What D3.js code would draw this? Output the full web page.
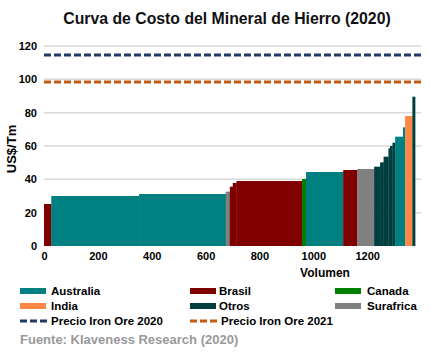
<!DOCTYPE html>
<html>
  <head>
    <meta charset="utf-8" />
    <style>
      body { margin: 0; background: #fff; }
      text { font-family: "Liberation Sans", Arial, sans-serif; font-weight: bold; }
    </style>
  </head>
  <body>

<svg id="graph"></svg>

<script src="https://d3js.org/d3.v7.min.js"></script>
<script>
  const WIDTH = 430;
  const HEIGHT = 363;

  // one entry per block of the cost curve
  const countries = ['Brasil', 'Australia', 'Australia', 'Surafrica', 'Brasil', 'Brasil', 'Brasil',
    'Canada', 'Australia', 'Brasil', 'Surafrica', 'Otros', 'Otros', 'Otros', 'Otros', 'Otros', 'Otros',
    'Australia', 'Australia', 'India', 'Otros'];
  const volumes = [27, 326, 322, 15, 11, 14, 243, 15, 138, 52, 63, 22, 13, 18, 6, 9, 10, 29, 8, 27, 10];
  const costs = [25.2, 30.0, 31.2, 32.6, 35.6, 37.8, 39.0, 40.2, 44.4, 45.6, 46.2, 47.6, 50.2, 53.6,
    58.6, 60.0, 62.0, 65.6, 71.2, 78.0, 89.6];

  const priceNames = ['Precio Iron Ore 2020', 'Precio Iron Ore 2021'];
  const prices = [114.6, 98.4];

  const xTicks = [0, 200, 400, 600, 800, 1000, 1200];
  const yTicks = [0, 20, 40, 60, 80, 100, 120];

  const legendNames = ['Australia', 'Brasil', 'Canada', 'India', 'Otros', 'Surafrica'];
  const colors = {
    Australia: '#008080', Brasil: '#800000', Canada: '#008000',
    India: '#ff8746', Otros: '#003f3f', Surafrica: '#808080'
  };
  const priceColors = ['#203864', '#c55a11'];

  const svg = d3.select('#graph').attr('width', WIDTH).attr('height', HEIGHT);

  const x = d3.scaleLinear().domain([0, 1400]).range([44, 421]);
  const y = d3.scaleLinear().domain([0, 120]).range([246, 46]);

  svg.append('text')
    .attr('x', 227).attr('y', 24)
    .attr('text-anchor', 'middle')
    .attr('font-size', 15.8)
    .attr('fill', '#111')
    .text('Curva de Costo del Mineral de Hierro (2020)');

  // gridlines
  svg.append('g')
    .selectAll('line')
    .data(yTicks.slice(1))
    .join('line')
    .attr('x1', 44).attr('x2', 421)
    .attr('y1', d => y(d)).attr('y2', d => y(d))
    .attr('stroke', '#d9d9d9').attr('stroke-width', 1.5);

  // bars
  let start = 0;
  const bars = countries.map((c, i) => {
    const b = { country: c, x0: start, x1: start + volumes[i], cost: costs[i] };
    start += volumes[i];
    return b;
  });

  svg.append('g')
    .selectAll('rect')
    .data(bars)
    .join('rect')
    .attr('x', d => x(d.x0))
    .attr('width', d => x(d.x1) - x(d.x0) + 0.3)
    .attr('y', d => y(d.cost))
    .attr('height', d => y(0) - y(d.cost))
    .attr('fill', d => colors[d.country]);

  // price lines
  svg.append('g')
    .selectAll('line')
    .data(prices)
    .join('line')
    .attr('x1', 44).attr('x2', 421)
    .attr('y1', d => y(d)).attr('y2', d => y(d))
    .attr('stroke', (d, i) => priceColors[i])
    .attr('stroke-width', 3)
    .attr('stroke-dasharray', '7,3');

  // axes
  const yAxis = svg.append('g')
    .attr('transform', 'translate(40,0)')
    .call(d3.axisLeft(y).tickValues(yTicks).tickSize(0).tickPadding(3));
  yAxis.select('.domain').remove();
  yAxis.selectAll('text').attr('font-size', 11).attr('fill', '#000')
    .attr('font-family', '"Liberation Sans", Arial, sans-serif');

  const xAxis = svg.append('g')
    .attr('transform', 'translate(0,249)')
    .call(d3.axisBottom(x).tickValues(xTicks).tickFormat(d3.format('d')).tickSize(0).tickPadding(3));
  xAxis.select('.domain').remove();
  xAxis.selectAll('text').attr('font-size', 11).attr('fill', '#000')
    .attr('font-family', '"Liberation Sans", Arial, sans-serif');

  svg.append('text')
    .attr('transform', 'translate(16,149) rotate(-90)')
    .attr('text-anchor', 'middle')
    .attr('font-size', 13)
    .text('US$/Tm');

  svg.append('text')
    .attr('x', 325).attr('y', 277)
    .attr('text-anchor', 'middle')
    .attr('font-size', 12)
    .text('Volumen');

  // legend
  const colX = [20, 190, 335];
  const textX = [51, 219, 367];
  const legend = svg.append('g');
  legendNames.forEach((n, i) => {
    const cx = colX[i % 3];
    const cy = 291 + Math.floor(i / 3) * 15;
    legend.append('rect')
      .attr('x', cx).attr('y', cy - 3)
      .attr('width', 26).attr('height', 6)
      .attr('fill', colors[n]);
    legend.append('text')
      .attr('x', textX[i % 3]).attr('y', cy + 4)
      .attr('font-size', 11.5)
      .text(n);
  });
  priceNames.forEach((n, i) => {
    const cx = colX[i];
    const cy = 321;
    legend.append('line')
      .attr('x1', cx).attr('x2', cx + 27)
      .attr('y1', cy).attr('y2', cy)
      .attr('stroke', priceColors[i]).attr('stroke-width', 3)
      .attr('stroke-dasharray', '7,3');
    legend.append('text')
      .attr('x', cx + 31).attr('y', cy + 4)
      .attr('font-size', 11.5)
      .text(n);
  });

  svg.append('text')
    .attr('x', 20).attr('y', 344)
    .attr('font-size', 13)
    .attr('fill', '#999999')
    .text('Fuente: Klaveness Research (2020)');
</script>
  </body>
</html>
